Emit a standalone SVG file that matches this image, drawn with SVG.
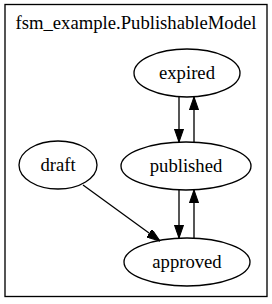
<svg xmlns="http://www.w3.org/2000/svg" width="272" height="304" viewBox="0 0 272 304">
<style>
.node ellipse{fill:none;stroke:#000;stroke-width:1.33}
text{font-family:"Liberation Serif","Times New Roman",serif;font-size:18.67px;fill:#000;text-anchor:middle}
.edge{fill:none;stroke:#000;stroke-width:1.33;marker-end:url(#arrow)}
</style>
<defs>
<marker id="arrow" viewBox="0 0 10 7" markerWidth="13.3" markerHeight="9.3" refX="10" refY="3.5" markerUnits="userSpaceOnUse" orient="auto">
<path d="M0,0 L10,3.5 L0,7 z" fill="#000" stroke="#000" stroke-width="0.8"/>
</marker>
</defs>
<rect width="272" height="304" fill="#fff"/>
<g id="cluster">
<rect x="5" y="4.5" width="262" height="292" fill="none" stroke="#000" stroke-width="1.33"/>
<text x="136" y="29">fsm_example.PublishableModel</text>
</g>
<g id="edges">
<path class="edge" d="M179,97 L179,142"/>
<path class="edge" d="M194,142 L194,97"/>
<path class="edge" d="M179,190 L179,238"/>
<path class="edge" d="M194,238 L194,190"/>
<path class="edge" d="M83,185 L160,241"/>
</g>
<g id="expired" class="node">
<ellipse cx="187" cy="73" rx="53" ry="24"/>
<text x="187" y="79">expired</text>
</g>
<g id="published" class="node">
<ellipse cx="186" cy="166" rx="65" ry="24"/>
<text x="186" y="172">published</text>
</g>
<g id="draft" class="node">
<ellipse cx="58" cy="165" rx="39" ry="24"/>
<text x="58" y="171">draft</text>
</g>
<g id="approved" class="node">
<ellipse cx="187" cy="262" rx="63" ry="24"/>
<text x="187" y="268">approved</text>
</g>
</svg>
